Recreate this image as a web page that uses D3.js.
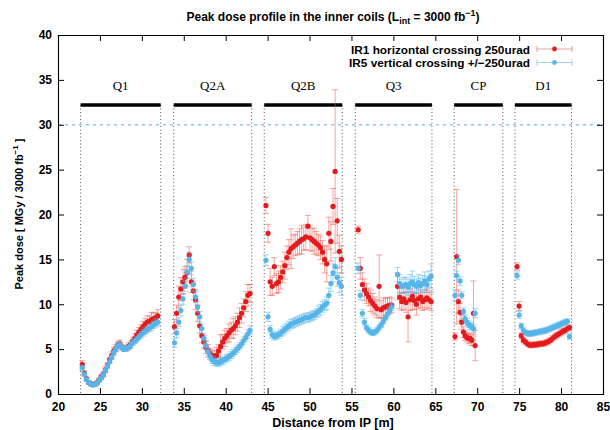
<!DOCTYPE html>
<html>
<head>
<meta charset="utf-8">
<script src="https://cdn.jsdelivr.net/npm/d3@7"></script>
<style>
  body { margin: 0; background: #fff; }
  svg text { font-family: "Liberation Sans", Arial, sans-serif; }
</style>
</head>
<body>
<svg id="chart" width="610" height="430"></svg>
<script>
// Magnets (start, end in m) and their labels
let magnets = ["Q1", "Q2A", "Q2B", "Q3", "CP", "D1"];
let magnetStart = [22.7, 33.8, 44.6, 55.45, 67.25, 74.5];
let magnetEnd = [32.25, 43.1, 53.9, 64.6, 73.05, 81.25];

// Scoring bins: first bin centre and bin width per block
let blockStart = [22.9, 33.9, 44.8, 55.8, 60.5, 67.35, 74.75];
let blockStep = [0.25, 0.25, 0.25, 0.25, 0.25, 0.2, 0.25];

// IR1 horizontal crossing 250urad
let ir1 = [
  [3.3,2.3,1.7,1.3,1.15,1.05,1.1,1.25,1.55,1.9,2.2,2.7,3.2,3.8,4.3,4.8,5.1,5.5,5.6,5.2,5.05,5.1,5.3,5.5,5.9,6.2,6.6,6.9,7.2,7.5,7.8,8.0,8.1,8.3,8.4,8.5,8.7],
  [7.5,9.0,10.8,11.7,12.5,13.0,13.5,15.5,12.5,11.5,10.5,9.0,7.6,6.5,5.8,5.2,4.8,4.5,4.3,4.2,4.3,4.8,5.3,5.8,6.2,6.5,6.8,7.1,7.3,7.6,8.0,8.5,9.0,9.6,10.3,11.0,11.2],
  [21.0,17.9,12.5,12.0,14.2,12.3,12.5,13.0,13.6,14.3,15.2,15.8,16.2,16.4,16.6,16.8,17.0,17.2,17.3,17.5,18.7,17.4,17.2,17.0,16.8,16.6,16.3,15.8,15.0,14.5,17.9,17.0,20.9,24.8,19.3,15.9,15.0],
  [18.3,14.0,12.2,11.6,11.2,10.8,10.4,10.1,9.8,9.5,12.0,9.4,9.6,9.7,9.8,9.9,9.9],
  [12.0,10.8,10.3,10.6,10.2,8.6,10.5,10.9,10.4,10.0,10.6,10.8,10.3,10.5,10.7,10.5,10.3],
  [6.4,15.3,10.3,9.1,8.0,6.9,6.5,6.3,6.2,6.2,6.0,9.0,5.4],
  [14.2,9.8,6.5,6.0,5.8,5.6,5.45,5.45,5.5,5.5,5.55,5.6,5.6,5.65,5.75,5.85,6.0,6.2,6.4,6.55,6.7,6.85,7.0,7.1,7.3,7.4]
];
let ir1Err = [
  [0.4,0.3,0.2,0.2,0.2,0.2,0.2,0.2,0.2,0.3,0.3,0.3,0.3,0.3,0.4,0.4,0.4,0.4,0.4,0.3,0.3,0.3,0.4,0.4,0.4,0.5,0.5,0.5,0.5,0.6,0.6,0.7,0.6,0.8,0.6,0.6,0.7],
  [0.8,0.9,1.2,1.3,1.4,1.2,1.5,0.9,1.2,1.0,1.1,0.9,0.8,0.8,0.7,0.7,0.7,0.6,0.6,0.6,0.9,0.7,1.3,0.8,0.9,0.8,1.0,0.9,1.1,1.0,1.0,1.1,1.1,1.0,1.1,1.2,1.0],
  [0.9,1.0,1.5,1.0,1.0,1.1,1.2,1.3,1.2,1.5,1.3,1.4,2.2,1.3,1.2,1.3,1.4,1.6,1.3,1.4,1.2,1.4,1.3,1.4,1.3,1.2,1.3,1.3,1.5,2.0,1.8,2.2,2.0,9.1,2.5,1.8,1.5],
  [0.4,1.2,1.3,1.2,1.1,1.0,1.2,1.1,1.0,1.0,3.5,1.0,1.1,1.0,0.9,0.9,0.8],
  [1.5,1.3,1.0,1.2,1.1,2.8,1.2,1.5,1.0,1.2,1.1,1.2,1.0,1.1,1.1,1.0,1.0],
  [0.4,7.5,1.3,1.0,0.8,0.6,0.5,0.5,0.6,0.5,0.6,3.6,1.7],
  [0.4,0.5,0.3,0.3,0.3,0.3,0.3,0.3,0.3,0.3,0.3,0.3,0.3,0.3,0.3,0.3,0.3,0.3,0.3,0.3,0.3,0.3,0.3,0.3,0.3,0.3]
];

// IR5 vertical crossing +/-250urad
let ir5 = [
  [2.9,2.2,1.6,1.3,1.1,1.0,1.05,1.2,1.5,1.8,2.1,2.6,3.1,3.6,4.1,4.6,5.0,5.4,5.5,5.15,5.0,5.05,5.2,5.4,5.7,5.9,6.1,6.35,6.6,6.8,7.0,7.15,7.35,7.5,7.7,7.85,8.0],
  [5.7,6.8,8.0,9.3,10.6,12.0,13.6,15.0,14.0,12.2,10.8,9.7,8.6,7.3,6.2,5.4,4.7,4.2,3.8,3.6,3.5,3.5,3.6,3.7,3.85,4.0,4.15,4.35,4.55,4.8,5.05,5.3,5.6,5.95,6.3,6.7,7.1],
  [14.9,8.6,7.2,6.6,6.4,6.5,6.6,6.8,7.0,7.2,7.4,7.6,7.8,7.9,8.0,8.1,8.2,8.3,8.4,8.5,8.5,8.6,8.7,8.8,9.0,9.2,9.4,9.7,9.9,10.1,11.0,12.3,13.5,14.2,13.0,12.4,12.0],
  [14.0,11.0,9.0,8.0,7.4,7.1,6.9,6.8,6.9,7.1,7.4,7.7,8.1,8.5,8.9,9.3,9.7],
  [13.3,12.3,12.0,12.1,12.2,11.9,12.3,12.5,12.2,12.0,12.4,12.1,12.3,12.6,12.2,12.8,13.1],
  [11.0,13.2,14.9,12.6,11.0,9.2,8.4,8.0,7.8,7.6,7.5,7.3,9.0],
  [13.2,8.8,7.6,7.1,6.85,6.75,6.7,6.75,6.8,6.85,6.9,6.95,7.0,7.05,7.1,7.2,7.3,7.4,7.5,7.6,7.7,7.8,7.9,8.0,8.1,6.4]
];
let ir5Err = [
  [0.3,0.2,0.15,0.15,0.15,0.15,0.15,0.15,0.15,0.2,0.2,0.2,0.2,0.2,0.25,0.25,0.25,0.3,0.3,0.25,0.25,0.25,0.25,0.3,0.3,0.3,0.3,0.3,0.35,0.35,0.35,0.35,0.4,0.4,0.4,0.4,0.4],
  [0.5,0.5,0.5,0.6,0.6,0.6,0.7,0.8,0.7,0.7,0.6,0.6,0.6,0.5,0.5,0.5,0.4,0.4,0.4,0.4,0.4,0.4,0.4,0.4,0.4,0.4,0.4,0.4,0.4,0.4,0.4,0.4,0.4,0.4,0.4,0.5,0.5],
  [0.6,0.5,0.4,0.4,0.4,0.4,0.4,0.4,0.5,0.5,0.5,0.5,0.5,0.5,0.5,0.5,0.5,0.5,0.5,0.5,0.5,0.5,0.5,0.5,0.5,0.6,0.6,0.6,0.6,0.7,0.8,0.9,1.0,1.0,1.0,1.1,1.0],
  [0.6,0.5,0.4,0.4,0.3,0.3,0.3,0.3,0.3,0.3,0.3,0.3,0.3,0.3,0.4,0.4,0.4],
  [0.8,1.0,0.8,0.9,0.8,0.9,1.0,1.2,0.9,0.8,0.9,0.8,0.9,1.0,0.9,0.9,1.4],
  [0.6,0.5,0.5,0.5,0.4,0.4,0.4,0.4,0.4,0.4,0.4,0.4,0.5],
  [0.4,0.4,0.3,0.3,0.3,0.3,0.3,0.3,0.3,0.3,0.3,0.3,0.3,0.3,0.3,0.3,0.3,0.3,0.3,0.3,0.3,0.3,0.3,0.3,0.3,0.3]
];

let xTicks = d3.range(20, 86, 5);
let yTicks = d3.range(0, 41, 5);
let limitDose = 30;
let barLevel = 32.2;

let red = "#e41a1c", redBar = "rgba(238,90,80,0.55)";
let blue = "#56b4e9", blueBar = "rgba(86,180,233,0.55)";

//###############################################
// Setup
//###############################################
let svg = d3.select("#chart");
let margin = {left: 58, right: 7, top: 35, bottom: 36};
let width = +svg.attr("width"), height = +svg.attr("height");

let x = d3.scaleLinear().domain([20, 85]).range([margin.left, width - margin.right]);
let y = d3.scaleLinear().domain([0, 40]).range([height - margin.bottom, margin.top]);

// flatten blocks into points
let toPoints = function(vals, errs) {
  let pts = [];
  vals.forEach((block, b) => {
    block.forEach((v, i) => {
      pts.push({x: blockStart[b] + i * blockStep[b], y: v, e: errs[b][i]});
    });
  });
  return pts;
};
let series = [
  {name: "IR1 horizontal crossing 250urad", pts: toPoints(ir1, ir1Err), color: red, bar: redBar},
  {name: "IR5 vertical crossing +/\u2212250urad", pts: toPoints(ir5, ir5Err), color: blue, bar: blueBar}
];

//###############################################
// Axes
//###############################################
let g = svg.append("g");

// limit line
g.append("line")
  .attr("x1", x(20)).attr("x2", x(85))
  .attr("y1", y(limitDose)).attr("y2", y(limitDose))
  .attr("stroke", "#8ccbec").attr("stroke-width", 1.3)
  .attr("stroke-dasharray", "3,4");

// magnet boundaries
magnets.forEach((m, i) => {
  [magnetStart[i], magnetEnd[i]].forEach((b) => {
    g.append("line")
      .attr("x1", x(b)).attr("x2", x(b))
      .attr("y1", y(barLevel)).attr("y2", y(0))
      .attr("stroke", "#555").attr("stroke-width", 1)
      .attr("stroke-dasharray", "1,2.5");
  });
  g.append("line")
    .attr("x1", x(magnetStart[i])).attr("x2", x(magnetEnd[i]))
    .attr("y1", y(barLevel)).attr("y2", y(barLevel))
    .attr("stroke", "#000").attr("stroke-width", 3.5);
  g.append("text")
    .attr("x", (x(magnetStart[i]) + x(magnetEnd[i])) / 2)
    .attr("y", 89.5)
    .attr("text-anchor", "middle")
    .style("font-family", "'Liberation Serif', 'Times New Roman', serif")
    .style("font-size", "13px")
    .text(m);
});

let xb = svg.append("g").attr("transform", `translate(0,${y(0)})`)
  .call(d3.axisBottom(x).tickValues(xTicks).tickSize(-6).tickPadding(8));
let xt = svg.append("g").attr("transform", `translate(0,${y(40)})`)
  .call(d3.axisTop(x).tickValues(xTicks).tickSize(-6).tickFormat(""));
let yl = svg.append("g").attr("transform", `translate(${x(20)},0)`)
  .call(d3.axisLeft(y).tickValues(yTicks).tickSize(-6).tickPadding(6));
let yr = svg.append("g").attr("transform", `translate(${x(85)},0)`)
  .call(d3.axisRight(y).tickValues(yTicks).tickSize(-6).tickFormat(""));

[xb, xt, yl, yr].forEach((a) => {
  a.select(".domain").attr("stroke", "#000").attr("stroke-width", 1.1);
  a.selectAll(".tick line").attr("stroke", "#000");
  a.selectAll("text").style("font-size", "12px").style("font-weight", "bold")
    .style("font-family", "'Liberation Sans', Arial, sans-serif").attr("fill", "#000");
});

//###############################################
// Data
//###############################################
series.forEach((s) => {
  let sg = svg.append("g");
  let eb = sg.selectAll(".eb").data(s.pts).enter().append("g")
    .attr("stroke", s.bar).attr("stroke-width", 1);
  eb.append("line")
    .attr("x1", (d) => x(d.x)).attr("x2", (d) => x(d.x))
    .attr("y1", (d) => y(d.y - d.e)).attr("y2", (d) => y(d.y + d.e));
  eb.append("line")
    .attr("x1", (d) => x(d.x) - 3).attr("x2", (d) => x(d.x) + 3)
    .attr("y1", (d) => y(d.y - d.e)).attr("y2", (d) => y(d.y - d.e));
  eb.append("line")
    .attr("x1", (d) => x(d.x) - 3).attr("x2", (d) => x(d.x) + 3)
    .attr("y1", (d) => y(d.y + d.e)).attr("y2", (d) => y(d.y + d.e));
  sg.selectAll("circle").data(s.pts).enter().append("circle")
    .attr("cx", (d) => x(d.x)).attr("cy", (d) => y(d.y))
    .attr("r", 2.6).attr("fill", s.color);
});

//###############################################
// Legend
//###############################################
series.forEach((s, i) => {
  let ly = 49 + i * 13.5;
  svg.append("text")
    .attr("x", 530).attr("y", ly + 4.5)
    .attr("text-anchor", "end")
    .style("font-size", "11.8px").style("font-weight", "bold")
    .text(s.name);
  let lg = svg.append("g").attr("stroke", s.bar).attr("stroke-width", 1.2);
  lg.append("line").attr("x1", 537).attr("x2", 572).attr("y1", ly).attr("y2", ly);
  lg.append("line").attr("x1", 537).attr("x2", 537).attr("y1", ly - 3).attr("y2", ly + 3);
  lg.append("line").attr("x1", 572).attr("x2", 572).attr("y1", ly - 3).attr("y2", ly + 3);
  svg.append("circle").attr("cx", 554.5).attr("cy", ly).attr("r", 2.4).attr("fill", s.color);
});

//###############################################
// Titles
//###############################################
let title = svg.append("text")
  .attr("x", 333).attr("y", 21)
  .attr("text-anchor", "middle")
  .style("font-size", "12px").style("font-weight", "bold");
title.append("tspan").text("Peak dose profile in the inner coils (L");
title.append("tspan").attr("dy", 3).style("font-size", "9px").text("int");
title.append("tspan").attr("dy", -3).text(" = 3000 fb");
title.append("tspan").attr("dy", -5).style("font-size", "9px").text("\u22121");
title.append("tspan").attr("dy", 5).text(")");

svg.append("text")
  .attr("x", 333).attr("y", 427)
  .attr("text-anchor", "middle")
  .style("font-size", "12.5px").style("font-weight", "bold")
  .text("Distance from IP [m]");

let ylab = svg.append("text")
  .attr("transform", "translate(23,214) rotate(-90)")
  .attr("text-anchor", "middle")
  .style("font-size", "11px").style("font-weight", "bold");
ylab.append("tspan").text("Peak dose [ MGy / 3000 fb");
ylab.append("tspan").attr("dy", -5).style("font-size", "8px").text("\u22121");
ylab.append("tspan").attr("dy", 5).text(" ]");
</script>
</body>
</html>
